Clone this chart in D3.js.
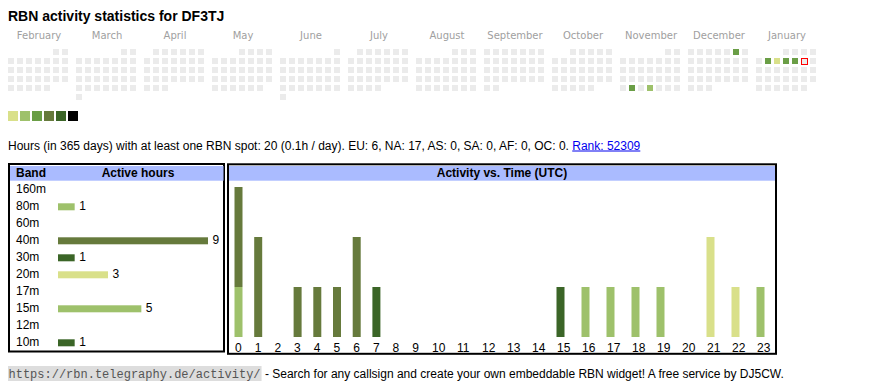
<!DOCTYPE html>
<html>
<head>
<meta charset="utf-8">
<script src="https://cdn.jsdelivr.net/npm/d3@7"></script>
<style>
  body { margin: 0; background: #fff; }
  svg { font-family: "Liberation Sans", Arial, sans-serif; }
</style>
</head>
<body>
<div id="chart"></div>
<script>
// --- data ---
const call = "DF3TJ";
const months = ["February", "March", "April", "May", "June", "July", "August",
                "September", "October", "November", "December", "January"];
const firstMonth = new Date(2025, 1, 1);
const today = "2026-01-10";
// day -> activity level (1..6)
const activeDays = [
    ["2025-11-25", 3], ["2025-11-27", 2], ["2025-12-06", 3],
    ["2026-01-06", 3], ["2026-01-07", 1], ["2026-01-08", 3], ["2026-01-09", 3]
];
const levelColors = ["#d9e08a", "#9ec16b", "#6a9e46", "#667a3c", "#3b6527", "#000000"];

const bands = ["160m", "80m", "60m", "40m", "30m", "20m", "17m", "15m", "12m", "10m"];
const bandHours = [0, 1, 0, 9, 1, 3, 0, 5, 0, 1];
const bandColors = {
    "160m": "#000000", "80m": "#9ec16b", "60m": "#6a9e46", "40m": "#667a3c",
    "30m": "#3b6527", "20m": "#d9e08a", "17m": "#6a9e46", "15m": "#9ec16b",
    "12m": "#667a3c", "10m": "#3b6527"
};

const hours = d3.range(24);
// active hours per UTC hour, per band
const hourly = {
    "10m": [0,0,0,0,0,0,0,0,0,0,0,0,0,0,0,1,0,0,0,0,0,0,0,0],
    "15m": [1,0,0,0,0,0,0,0,0,0,0,0,0,0,0,0,1,1,1,1,0,0,0,0],
    "20m": [0,0,0,0,0,0,0,0,0,0,0,0,0,0,0,0,0,0,0,0,0,2,1,0],
    "30m": [0,0,0,0,0,0,0,1,0,0,0,0,0,0,0,0,0,0,0,0,0,0,0,0],
    "40m": [2,2,0,1,1,1,2,0,0,0,0,0,0,0,0,0,0,0,0,0,0,0,0,0],
    "80m": [0,0,0,0,0,0,0,0,0,0,0,0,0,0,0,0,0,0,0,0,0,0,0,1]
};
const stackOrder = ["10m", "15m", "20m", "30m", "40m", "80m"];

const infoText = "Hours (in 365 days) with at least one RBN spot: 20 (0.1h / day). EU: 6, NA: 17, AS: 0, SA: 0, AF: 0, OC: 0.";
const rankText = "Rank: 52309";
const footUrl = "https://rbn.telegraphy.de/activity/";
const footText = " - Search for any callsign and create your own embeddable RBN widget! A free service by DJ5CW.";

const width = 870, height = 390;

const svg = d3.select("#chart").append("svg")
    .attr("width", width)
    .attr("height", height);

// title
svg.append("text")
    .attr("x", 8).attr("y", 20.5)
    .attr("font-size", 14).attr("font-weight", "bold")
    .attr("fill", "#000")
    .text("RBN activity statistics for " + call);

// --- calendar ---
const cell = 6, pitch = 9;
const monthX = d3.scaleLinear().domain([0, 12]).range([8, 8 + 68 * 12]);
const rowY = d3.scaleLinear().domain([0, 1]).range([49, 49 + pitch]);
const fmt = d3.timeFormat("%Y-%m-%d");
const levelOf = new Map(activeDays);

svg.append("g").selectAll("text")
    .data(months)
    .join("text")
    .attr("x", (d, i) => monthX(i) + 31)
    .attr("y", 39)
    .attr("text-anchor", "middle")
    .style("font-family", "'DejaVu Sans', sans-serif")
    .attr("font-size", 10)
    .attr("fill", "#a0a0a0")
    .text(d => d);

const days = [];
months.forEach((m, i) => {
    const start = d3.timeMonth.offset(firstMonth, i);
    const end = d3.timeMonth.offset(start, 1);
    const off = (start.getDay() + 6) % 7;
    d3.timeDays(start, end).forEach(day => {
        const n = day.getDate() - 1 + off;
        days.push({ key: fmt(day), m: i, col: (day.getDay() + 6) % 7, row: Math.floor(n / 7) });
    });
});

svg.append("g").selectAll("rect")
    .data(days)
    .join("rect")
    .attr("x", d => monthX(d.m) + d.col * pitch)
    .attr("y", d => rowY(d.row))
    .attr("width", cell).attr("height", cell)
    .attr("fill", d => levelOf.has(d.key) ? levelColors[levelOf.get(d.key) - 1] : "#ebebeb");

const td = days.find(d => d.key === today);
svg.append("rect")
    .attr("x", monthX(td.m) + td.col * pitch + 0.5)
    .attr("y", rowY(td.row) + 0.5)
    .attr("width", cell).attr("height", cell)
    .attr("fill", "#ebebeb")
    .attr("stroke", "#ff0000").attr("stroke-width", 1);

// level legend
svg.append("g").selectAll("rect")
    .data(levelColors)
    .join("rect")
    .attr("x", (d, i) => 8 + i * 12)
    .attr("y", 111)
    .attr("width", 10).attr("height", 10)
    .attr("fill", d => d);

// info line
const info = svg.append("text")
    .attr("x", 8).attr("y", 149.5)
    .attr("font-size", 12)
    .text(infoText);
const infoW = info.node().getComputedTextLength();
const rank = svg.append("text")
    .attr("x", 8 + infoW + 3.3).attr("y", 149.5)
    .attr("font-size", 12).attr("fill", "#0000ee")
    .text(rankText);
const rankW = rank.node().getComputedTextLength();
svg.append("line")
    .attr("x1", 8 + infoW + 3.3).attr("x2", 8 + infoW + 3.3 + rankW)
    .attr("y1", 151).attr("y2", 151)
    .attr("stroke", "#0000ee").attr("stroke-width", 1);

// --- band table ---
const bandBox = svg.append("g");
bandBox.append("rect")
    .attr("x", 9).attr("y", 164).attr("width", 215).attr("height", 187.5)
    .attr("fill", "#fff").attr("stroke", "#000").attr("stroke-width", 2);
bandBox.append("rect")
    .attr("x", 10).attr("y", 166).attr("width", 213.5).attr("height", 14.7)
    .attr("fill", "#aabbff");
bandBox.append("text")
    .attr("x", 16).attr("y", 177).attr("font-size", 12).attr("font-weight", "bold")
    .text("Band");
bandBox.append("text")
    .attr("x", 138).attr("y", 177).attr("font-size", 12).attr("font-weight", "bold")
    .attr("text-anchor", "middle")
    .text("Active hours");

const bandY = d3.scalePoint().domain(bands).range([193.3, 346.3]);
const bandX = d3.scaleLinear().domain([0, 9]).range([58, 208]);

bandBox.append("g").selectAll("text")
    .data(bands)
    .join("text")
    .attr("x", 16).attr("y", d => bandY(d))
    .attr("font-size", 12)
    .text(d => d);

const bandRows = bands.map((b, i) => ({ band: b, v: bandHours[i] })).filter(d => d.v > 0);
bandBox.append("g").selectAll("rect")
    .data(bandRows)
    .join("rect")
    .attr("x", bandX(0))
    .attr("y", d => bandY(d.band) - 7)
    .attr("width", d => bandX(d.v) - bandX(0))
    .attr("height", 7)
    .attr("fill", d => bandColors[d.band]);
bandBox.append("g").selectAll("text")
    .data(bandRows)
    .join("text")
    .attr("x", d => bandX(d.v) + 4.5)
    .attr("y", d => bandY(d.band))
    .attr("font-size", 12)
    .text(d => d.v);

// --- activity vs time ---
const timeBox = svg.append("g");
timeBox.append("rect")
    .attr("x", 228).attr("y", 164.3).attr("width", 548).attr("height", 189.5)
    .attr("fill", "#fff").attr("stroke", "#000").attr("stroke-width", 2);
timeBox.append("rect")
    .attr("x", 229).attr("y", 166).attr("width", 546).attr("height", 14.7)
    .attr("fill", "#aabbff");
timeBox.append("text")
    .attr("x", 502).attr("y", 177).attr("font-size", 12).attr("font-weight", "bold")
    .attr("text-anchor", "middle")
    .text("Activity vs. Time (UTC)");

// table columns: width depends on the label length
const colW = hours.map(h => String(h).length === 1 ? 19.7 : 25);
const colLeft = hours.map((h, i) => 235 + d3.sum(colW.slice(0, i)));
const hx = d3.scaleOrdinal().domain(hours).range(colLeft);
const hy = d3.scaleLinear().domain([0, 3]).range([337, 187]);

const table = hours.map(h => {
    const row = { hour: h };
    stackOrder.forEach(b => row[b] = hourly[b][h]);
    return row;
});
const series = d3.stack().keys(stackOrder)(table);

timeBox.append("g").selectAll("g")
    .data(series)
    .join("g")
    .attr("fill", d => bandColors[d.key])
    .selectAll("rect")
    .data(d => d.filter(p => p[1] > p[0]))
    .join("rect")
    .attr("x", d => hx(d.data.hour) - 0.5)
    .attr("y", d => hy(d[1]))
    .attr("width", 8)
    .attr("height", d => hy(d[0]) - hy(d[1]));

timeBox.append("g").selectAll("text")
    .data(hours)
    .join("text")
    .attr("x", d => hx(d))
    .attr("y", 351.5)
    .attr("font-size", 12)
    .text(d => d);

// --- footer ---
const foot = svg.append("g");
const urlBg = foot.append("rect")
    .attr("x", 8).attr("y", 366).attr("height", 15)
    .attr("fill", "#dddddd");
const urlText = foot.append("text")
    .attr("x", 8.5).attr("y", 377.5)
    .style("font-family", "'Liberation Mono', monospace")
    .attr("font-size", 12).attr("fill", "#555")
    .text(footUrl);
const urlW = urlText.node().getComputedTextLength();
urlBg.attr("width", urlW + 1.5);
foot.append("text")
    .attr("x", 8 + urlW + 1.5).attr("y", 377.5)
    .style("white-space", "pre")
    .attr("font-size", 12)
    .text(footText);
</script>
</body>
</html>
